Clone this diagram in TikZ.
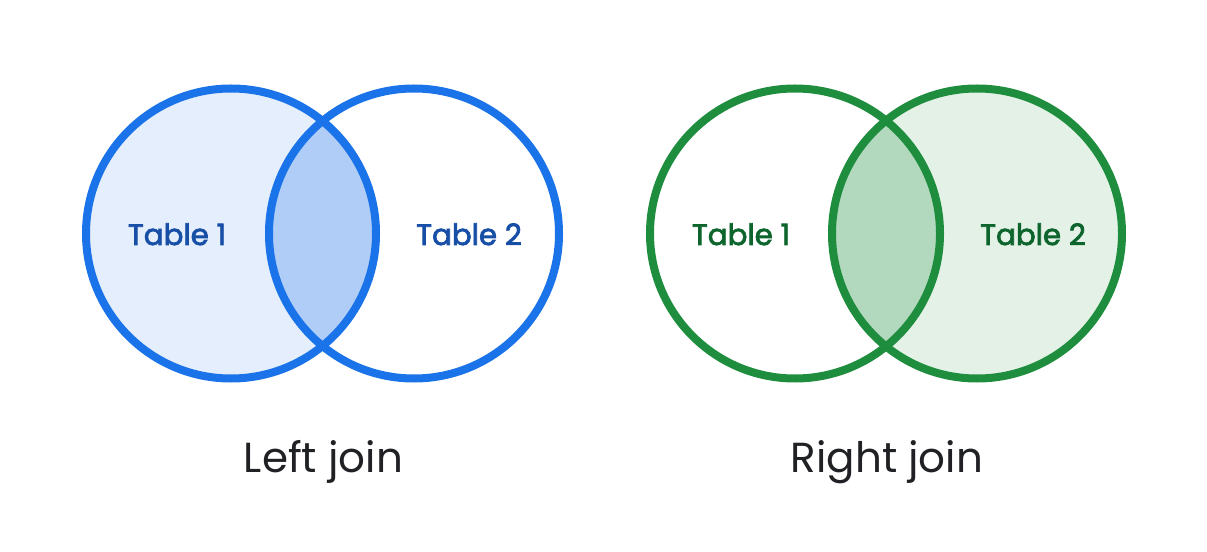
\documentclass[tikz,border=0pt]{standalone}
\usepackage{fontspec}
\setmainfont{Poppins}
\newfontfamily\labelfont[FakeBold=2.5]{Poppins}
\definecolor{bstroke}{HTML}{1A73E8}
\definecolor{blight}{HTML}{E4EEFC}
\definecolor{bmid}{HTML}{B0CDF7}
\definecolor{btext}{HTML}{174EA6}
\definecolor{gstroke}{HTML}{1E8E3E}
\definecolor{glight}{HTML}{E3F1E6}
\definecolor{gmid}{HTML}{B2D8BE}
\definecolor{gtext}{HTML}{0D652D}
\definecolor{captext}{HTML}{202124}
\begin{document}
\begin{tikzpicture}[x=0.75pt,y=-0.75pt,
  ring/.style={circle, minimum size=217.5pt, inner sep=0pt, line width=6pt},
  tlabel/.style={anchor=base, font=\labelfont\fontsize{22}{26}\selectfont},
  caption/.style={anchor=base, font=\fontsize{31.5}{38}\selectfont, text=captext}]
\useasboundingbox (0,0) rectangle (1207,552);
% left join fills
\fill[blight] (231,233.5) circle[radius=108.75pt];
\begin{scope}
  \clip (231,233.5) circle[radius=108.75pt];
  \fill[bmid] (414,233.5) circle[radius=108.75pt];
\end{scope}
% right join fills
\fill[glight] (977,233.5) circle[radius=108.75pt];
\begin{scope}
  \clip (977,233.5) circle[radius=108.75pt];
  \fill[gmid] (795,233.5) circle[radius=108.75pt];
\end{scope}
% outlines
\node[ring, draw=bstroke] (b1) at (231,233.5) {};
\node[ring, draw=bstroke] (b2) at (414,233.5) {};
\node[ring, draw=gstroke] (g1) at (795,233.5) {};
\node[ring, draw=gstroke] (g2) at (977,233.5) {};
% labels
\node[tlabel, text=btext] (lb1) at (177,245) {Table 1};
\node[tlabel, text=btext] (lb2) at (469,245) {Table 2};
\node[tlabel, text=gtext] (lg1) at (741,245) {Table 1};
\node[tlabel, text=gtext] (lg2) at (1033,245) {Table 2};
\node[caption] (cl) at (323.5,472) {Left join};
\node[caption] (cr) at (887,472) {Right join};
\end{tikzpicture}
\end{document}
